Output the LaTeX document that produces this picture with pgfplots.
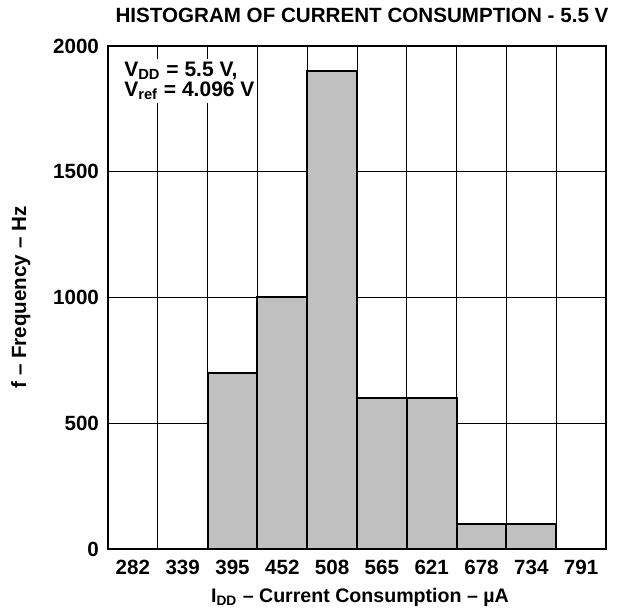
\documentclass[border=0pt]{standalone}
\usepackage{fontspec}
\setmainfont{Liberation Sans}
\usepackage{pgfplots}
\pgfplotsset{compat=1.18}
\begin{document}
\begin{tikzpicture}
\begin{axis}[
  name=a,
  scale only axis,
  width=249pt, height=251.5pt,
  xmin=-0.5, xmax=9.5,
  ymin=0, ymax=2000,
  enlargelimits=false,
  xtick={0,1,2,3,4,5,6,7,8,9},
  xticklabels={282,339,395,452,508,565,621,678,734,791},
  minor xtick={0.5,1.5,2.5,3.5,4.5,5.5,6.5,7.5,8.5},
  ytick={0,500,1000,1500,2000},
  major tick length=0pt, minor tick length=0pt,
  xmajorgrids=false, xminorgrids=true, ymajorgrids=true,
  grid style={black, line width=0.5pt},
  minor grid style={black, line width=0.5pt},
  axis line style={black, line width=1pt},
  tick label style={font=\fontsize{10.3}{12}\selectfont\bfseries},
  yticklabel style={/pgf/number format/assume math mode=true, /pgf/number format/1000 sep={}, xshift=-1pt},
  xticklabel style={yshift=-2pt},
  every axis title shift=0pt,
  title={HISTOGRAM OF CURRENT CONSUMPTION - 5.5 V},
  title style={font=\fontsize{10.3}{12}\selectfont\bfseries, at={(axis description cs:0.51,1.0616)}, anchor=center},
  xlabel={I\textsubscript{DD} – Current Consumption – µA},
  ylabel={f – Frequency – Hz},
  every axis x label/.style={at={(axis description cs:0.506,-0.0954)}, anchor=center, font=\fontsize{9.8}{11}\selectfont\bfseries},
  every axis y label/.style={at={(axis description cs:-0.175,0.5)}, anchor=center, rotate=90, font=\fontsize{10.3}{11}\selectfont\bfseries},
  ybar, bar width=1, bar shift=0pt,
]
\addplot[fill={rgb,255:red,192;green,192;blue,192}, draw=black, line width=1pt] coordinates {
  (2,700) (3,1000) (4,1900) (5,600) (6,600) (7,100) (8,100)
};
\node[anchor=north west, fill=white, align=left, inner sep=1.5pt,
  font=\fontsize{10.5}{10}\selectfont\bfseries] at (axis cs:-0.24,1950)
  {V\textsubscript{DD} = 5.5 V,\\V\textsubscript{ref} = 4.096 V};
\end{axis}
\pgfresetboundingbox
\path ([shift={(-54pt,-32.5pt)}]a.south west) rectangle ([shift={(6pt,23pt)}]a.north east);
\end{tikzpicture}
\end{document}
